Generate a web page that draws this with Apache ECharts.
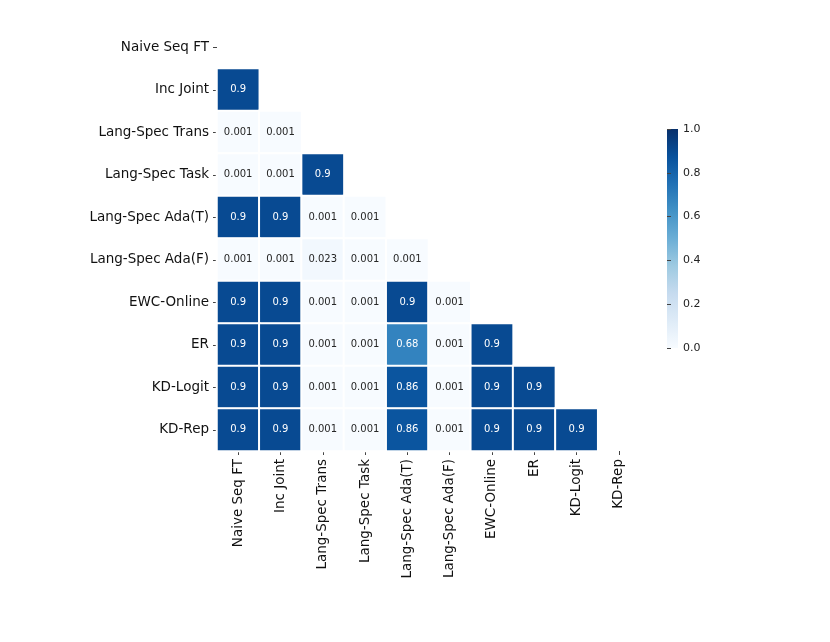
<!DOCTYPE html>
<html>
<head>
<meta charset="utf-8">
<script src="https://cdn.jsdelivr.net/npm/echarts@6/dist/echarts.min.js"></script>
<style>
html,body{margin:0;padding:0;background:#fff;}
#main{width:830px;height:642px;}
</style>
</head>
<body>
<div id="main"></div>
<script>
// 方法名称
let methods = ['Naive Seq FT','Inc Joint','Lang-Spec Trans','Lang-Spec Task','Lang-Spec Ada(T)',
    'Lang-Spec Ada(F)','EWC-Online','ER','KD-Logit','KD-Rep'];
// 下三角矩阵, 每行只有对角线以下的值
let row_inc_joint = [0.9];
let row_trans = [0.001,0.001];
let row_task = [0.001,0.001,0.9];
let row_ada_t = [0.9,0.9,0.001,0.001];
let row_ada_f = [0.001,0.001,0.023,0.001,0.001];
let row_ewc = [0.9,0.9,0.001,0.001,0.9,0.001];
let row_er = [0.9,0.9,0.001,0.001,0.68,0.001,0.9];
let row_kd_logit = [0.9,0.9,0.001,0.001,0.86,0.001,0.9,0.9];
let row_kd_rep = [0.9,0.9,0.001,0.001,0.86,0.001,0.9,0.9,0.9];

let rows = [[],row_inc_joint,row_trans,row_task,row_ada_t,row_ada_f,row_ewc,row_er,row_kd_logit,row_kd_rep];
let blues = ['#f7fbff','#deebf7','#c6dbef','#9ecae1','#6baed6','#4292c6','#2171b5','#08519c','#08306b'];

let series_data = [];
for(let i=0;i<rows.length;i++){
    for(let j=0;j<rows[i].length;j++){
        let v = rows[i][j];
        series_data.push({
            value:[j,i,v],
            label:{color: v>0.5 ? '#ffffff' : '#262626'}
        });
    }
}

// 色条渐变 (从下到上)
let bar_stops = [];
for(let k=0;k<blues.length;k++){
    bar_stops.push({offset:k/(blues.length-1),color:blues[blues.length-1-k]});
}

let myChart = echarts.init(document.getElementById('main'));
myChart.setOption({
    backgroundColor:'#ffffff',
    animation:false,
    grid:[
        {left:217,top:26,width:423,height:425},
        {left:667,top:129,width:11,height:219}   // 色条刻度
    ],
    graphic:[{
        type:'rect',
        left:667,
        top:129,
        shape:{width:11,height:219},
        style:{fill:new echarts.graphic.LinearGradient(0,0,0,1,bar_stops)},
        silent:true
    }],
    xAxis:[
        {
            type:'category',
            data:methods,
            gridIndex:0,
            axisLine:{show:false},
            axisTick:{show:true,alignWithLabel:true,length:4,lineStyle:{color:'#444'}},
            axisLabel:{rotate:90,fontSize:13.5,color:'#111',fontFamily:'DejaVu Sans',margin:8},
            splitLine:{show:false}
        },
        {type:'value',gridIndex:1,show:false,min:0,max:1}
    ],
    yAxis:[
        {
            type:'category',
            data:methods,
            inverse:true,
            gridIndex:0,
            axisLine:{show:false},
            axisTick:{show:true,alignWithLabel:true,length:4,lineStyle:{color:'#444'}},
            axisLabel:{fontSize:13.5,color:'#111',fontFamily:'DejaVu Sans',margin:8},
            splitLine:{show:false}
        },
        {
            type:'value',
            gridIndex:1,
            position:'right',
            min:0,
            max:1,
            interval:0.2,
            axisLine:{show:false},
            axisTick:{show:true,length:4,lineStyle:{color:'#444'}},
            axisLabel:{fontSize:11,color:'#222',fontFamily:'DejaVu Sans',margin:5,
                formatter:function(v){return v.toFixed(1);}},
            splitLine:{show:false}
        }
    ],
    visualMap:{
        type:'continuous',
        show:false,
        min:0,
        max:1,
        seriesIndex:0,
        inRange:{color:blues}
    },
    series:[{
        type:'heatmap',
        xAxisIndex:0,
        yAxisIndex:0,
        data:series_data,
        label:{
            show:true,
            fontSize:10,
            fontFamily:'DejaVu Sans',
            formatter:function(p){return String(p.value[2]);}
        },
        itemStyle:{borderColor:'#ffffff',borderWidth:2},
        emphasis:{disabled:true}
    }]
});
</script>
</body>
</html>
